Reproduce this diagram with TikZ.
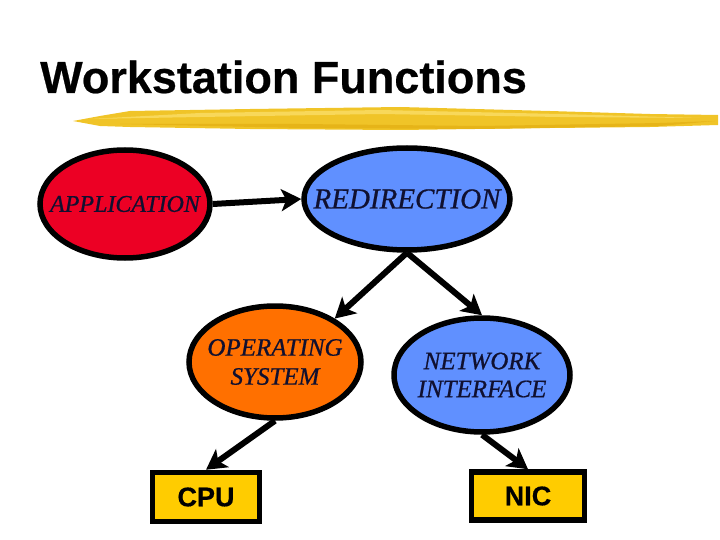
\documentclass[tikz,border=0pt]{standalone}
\usepackage{fontspec}
\setmainfont{Liberation Serif}
\newfontfamily\arialfont{Liberation Sans}
\newfontfamily\heavyfont[FakeBold=0.5]{Liberation Sans}
\newfontfamily\ellfont[FakeBold=0.7]{Liberation Serif}
\usetikzlibrary{shapes.geometric,arrows.meta}
\definecolor{appred}{RGB}{236,0,36}
\definecolor{nodeblue}{RGB}{96,144,255}
\definecolor{osorange}{RGB}{255,112,0}
\definecolor{boxgold}{RGB}{255,204,0}
\definecolor{brushA}{RGB}{240,196,40}
\definecolor{brushB}{RGB}{230,180,24}
\definecolor{brushC}{RGB}{248,216,90}
\definecolor{txtnavy}{RGB}{16,16,48}
\tikzset{
  ell/.style={ellipse, draw=black, line width=5.5pt, inner sep=0pt},
  etxt/.style={inner sep=0pt, text=txtnavy, align=center},
  gbox/.style={rectangle, draw=black, line width=5.5pt, fill=boxgold, inner sep=0pt,
    font=\heavyfont\bfseries\fontsize{27}{30}\selectfont},
  arr/.style={line width=6pt, -{Stealth[length=20pt,width=22pt,inset=5pt]}}
}
\begin{document}
\begin{tikzpicture}[x=1pt,y=-1pt]
\useasboundingbox (0,0) rectangle (720,540);
% title
\node[anchor=base west, inner sep=0pt, font=\heavyfont\bfseries\fontsize{45}{50}\selectfont] (title) at (40,93) {Workstation Functions};
% brush stroke
\fill[brushA] (73,121) -- (100,116) -- (130,111) -- (250,109) -- (400,107) -- (550,111) -- (650,114) -- (718,115) -- (718,125) -- (650,127) -- (550,128) -- (400,130) -- (250,129) -- (130,127) -- (100,126) -- cycle;
\fill[brushC] (90,119) -- (200,113) -- (380,110) -- (560,114) -- (700,118) -- (560,117) -- (380,114) -- (200,117) -- cycle;
\fill[brushB] (120,124) -- (300,124) -- (480,126) -- (660,123) -- (715,121) -- (660,126) -- (480,129) -- (300,128) -- cycle;
% ellipses
\node[ell, fill=appred, minimum width=170pt, minimum height=108pt] (app) at (125,204) {};
\node[ell, fill=nodeblue, minimum width=206pt, minimum height=102pt] (red) at (407,199) {};
\node[ell, fill=osorange, minimum width=172pt, minimum height=112pt] (os) at (275,362) {};
\node[ell, fill=nodeblue, minimum width=176pt, minimum height=114pt] (ni) at (482,375) {};
% ellipse texts
\node[etxt, font=\ellfont\itshape\fontsize{24}{28}\selectfont] (appt) at (app) {APPLICATION};
\node[etxt, font=\ellfont\itshape\fontsize{29}{32}\selectfont] (redt) at (red) {REDIRECTION};
\node[etxt, font=\ellfont\itshape\fontsize{25}{29}\selectfont] (ost) at (os) {OPERATING\\SYSTEM};
\node[etxt, font=\ellfont\itshape\fontsize{25}{28}\selectfont] (nit) at (ni) {NETWORK\\INTERFACE};
% boxes
\node[gbox, minimum width=107pt, minimum height=49pt] (cpu) at (206,497) {CPU};
\node[gbox, minimum width=113pt, minimum height=48pt] (nic) at (528,496) {NIC};
% connectors
\draw[arr] (app.east) -- (red.west);
\draw[arr] (red.south) -- (os.36);
\draw[arr] (red.south) -- (ni.north);
\draw[arr] (os.south) -- (cpu.north);
\draw[arr] (ni.south) -- (nic.north);
\end{tikzpicture}
\end{document}
